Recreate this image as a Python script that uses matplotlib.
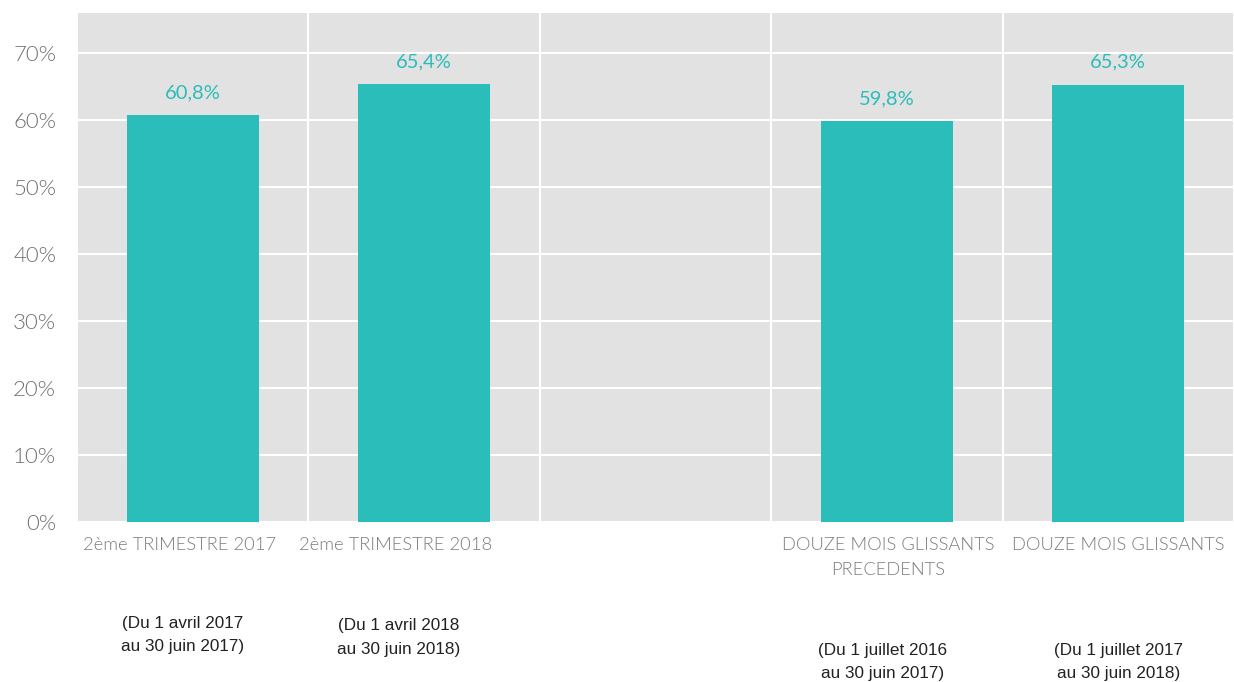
import numpy as np
import matplotlib.pyplot as plt

# Données
categories = ['2ème TRIMESTRE 2017', '2ème TRIMESTRE 2018', '',
              'DOUZE MOIS GLISSANTS\nPRECEDENTS', 'DOUZE MOIS GLISSANTS']
valeurs = [60.8, 65.4, np.nan, 59.8, 65.3]
etiquettes = ['60,8%', '65,4%', '', '59,8%', '65,3%']
periodes = ['(Du 1 avril 2017\nau 30 juin 2017)', '(Du 1 avril 2018\nau 30 juin 2018)', '',
            '(Du 1 juillet 2016\nau 30 juin 2017)', '(Du 1 juillet 2017\nau 30 juin 2018)']
ticks_y = [0, 10, 20, 30, 40, 50, 60, 70]

turquoise = '#2bbdb9'
gris_fond = '#e2e2e2'

fig = plt.figure(figsize=(12.34, 6.82), dpi=100)
ax = fig.add_axes([77 / 1234, 1 - 522 / 682, 1 - 77 / 1234, (522 - 13) / 682])
ax.set_facecolor(gris_fond)

x = np.arange(len(categories))
ax.bar(x, valeurs, width=0.57, color=turquoise, zorder=3)

for i, (v, t) in enumerate(zip(valeurs, etiquettes)):
    if not np.isnan(v):
        ax.annotate(t, (x[i], v), xytext=(0, 10), textcoords='offset points',
                    ha='center', va='bottom', color=turquoise, fontsize=14.5,
                    family='Lato')

ax.set_xlim(-0.5, len(categories) - 0.5)
ax.set_ylim(0, 76)
ax.set_yticks(ticks_y)
ax.set_yticklabels([f'{t}%' for t in ticks_y], fontsize=16, color='#707070',
                   family='Lato', fontweight=300)
ax.tick_params(axis='y', length=0, pad=15)
ax.set_xticks([])
ax.set_xticks(np.arange(len(categories) + 1) - 0.5, minor=True)
ax.tick_params(axis='x', which='both', length=0)
ax.grid(axis='y', color='white', linewidth=1.5, zorder=1)
ax.grid(axis='x', which='minor', color='white', linewidth=1.5, zorder=1)
ax.set_axisbelow(True)
for s in ax.spines.values():
    s.set_visible(False)

# Libellés de catégories (les deux premiers sont légèrement décalés à gauche)
decalages = [-0.058, -0.125, 0, 0.005, 0]
for i, lab in enumerate(categories):
    if lab:
        ax.text(x[i] + decalages[i], -2.3, lab, ha='center', va='top',
                fontsize=13.2, color='#7c7c7c', family='Lato',
                fontweight=300, linespacing=1.65)

# Périodes sous les libellés
decal_per = [-0.045, -0.11, 0, -0.017, 0]
y_per = [-14.0, -14.4, 0, -18.0, -18.0]
for i, p in enumerate(periodes):
    if p:
        ax.text(x[i] + decal_per[i], y_per[i], p, ha='center', va='top',
                fontsize=12.3, color='#222222', family='Liberation Sans',
                linespacing=1.7)

fig.savefig('out.png', dpi=100)
